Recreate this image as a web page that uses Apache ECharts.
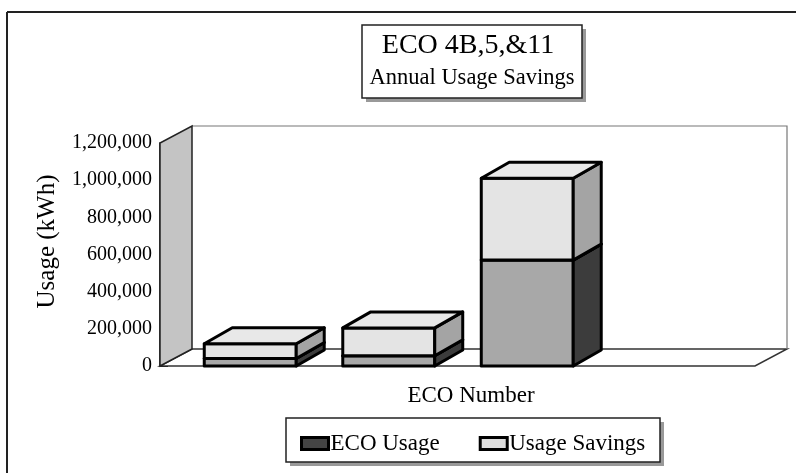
<!DOCTYPE html>
<html><head><meta charset="utf-8">
<script src="https://cdn.jsdelivr.net/npm/echarts@6/dist/echarts.min.js"></script>
<style>html,body{margin:0;padding:0;background:#fff}#c{width:796px;height:473px}</style>
</head><body><div id="c"></div>
<script>
// ---- data ----
const categories = ['4B', '5', '11', ''];
const ecoUsage = [40000, 55000, 570000, null];
const usageSavings = [80000, 150000, 440000, null];
const yTickValues = [0, 200000, 400000, 600000, 800000, 1000000, 1200000];
const yTickLabels = ['0', '200,000', '400,000', '600,000', '800,000', '1,000,000', '1,200,000'];
const seriesNames = ['ECO Usage', 'Usage Savings'];
const titleText = 'ECO 4B,5,&11';
const subtitleText = 'Annual Usage Savings';
const xName = 'ECO Number';
const yName = 'Usage (kWh)';

// ---- layout / style ----
const FONT = 'Liberation Serif';
const GRID = {left: 181, right: 61, top: 143, bottom: 107};
const WALL_LEFT_PAD = 21, WALL_RIGHT_PAD = 20;
const WALL_DX = 32, WALL_DY = -17;
const BAR_DX = 28, BAR_DY = -16;
const BAR_RATIO = 0.664;

const ecoData = [], savData = [];
categories.forEach((c, i) => {
  if (ecoUsage[i] == null) return;
  ecoData.push([i, 0, ecoUsage[i]]);
  savData.push([i, ecoUsage[i], ecoUsage[i] + usageSavings[i]]);
});

function barRenderer(colors) {
  return function (params, api) {
    const idx = api.value(0);
    const p0 = api.coord([idx, api.value(1)]);
    const p1 = api.coord([idx, api.value(2)]);
    const w = api.size([1, 0])[0] * BAR_RATIO;
    const x = p0[0] - w / 2, y = p1[1], h = p0[1] - p1[1];
    const st = {stroke: '#000', lineWidth: 3, lineJoin: 'round'};
    return {
      type: 'group',
      children: [
        {type: 'rect', shape: {x: x, y: y, width: w, height: h}, style: Object.assign({fill: colors.front}, st)},
        {type: 'polygon', shape: {points: [[x + w, y], [x + w + BAR_DX, y + BAR_DY], [x + w + BAR_DX, y + h + BAR_DY], [x + w, y + h]]}, style: Object.assign({fill: colors.side}, st)},
        {type: 'polygon', shape: {points: [[x, y], [x + BAR_DX, y + BAR_DY], [x + w + BAR_DX, y + BAR_DY], [x + w, y]]}, style: Object.assign({fill: colors.top}, st)}
      ]
    };
  };
}

function wallRenderer(params, api) {
  const cs = params.coordSys;
  const y0 = api.coord([0, 0])[1];
  const yTop = api.coord([0, yTickValues[yTickValues.length - 1]])[1];
  const xl = cs.x - WALL_LEFT_PAD, xr = cs.x + cs.width + WALL_RIGHT_PAD;
  return {
    type: 'group',
    children: [
      {type: 'polygon', shape: {points: [[xl, y0], [xl + WALL_DX, y0 + WALL_DY], [xr + WALL_DX, y0 + WALL_DY], [xr, y0]]},
        style: {fill: '#fff', stroke: '#333', lineWidth: 1.5}},
      {type: 'polyline', shape: {points: [[xl + WALL_DX, yTop + WALL_DY], [xr + WALL_DX, yTop + WALL_DY], [xr + WALL_DX, y0 + WALL_DY]]},
        style: {fill: null, stroke: '#777', lineWidth: 1.2}},
      {type: 'polygon', shape: {points: [[xl, y0], [xl, yTop], [xl + WALL_DX, yTop + WALL_DY], [xl + WALL_DX, y0 + WALL_DY]]},
        style: {fill: '#c4c4c4', stroke: '#222', lineWidth: 1.5}}
    ]
  };
}

const chart = echarts.init(document.getElementById('c'));
chart.setOption({
  animation: false,
  backgroundColor: '#fff',
  grid: GRID,
  xAxis: {
    type: 'category', data: categories,
    axisLine: {show: false}, axisTick: {show: false}, axisLabel: {show: false},
    name: xName, nameLocation: 'middle', nameGap: 18,
    nameTextStyle: {fontFamily: FONT, fontSize: 23, color: '#000', padding: [0, 0, 0, 26]}
  },
  yAxis: {
    type: 'value', min: 0, max: 1200000, interval: 200000,
    offset: WALL_LEFT_PAD,
    splitLine: {show: false},
    axisLine: {show: true, lineStyle: {color: '#000', width: 1.5}},
    axisTick: {show: true, inside: true, length: 8, lineStyle: {color: '#000'}},
    axisLabel: {
      fontFamily: FONT, fontSize: 20, color: '#000', margin: 8,
      formatter: v => yTickLabels[yTickValues.indexOf(v)] || ''
    },
    name: yName, nameLocation: 'middle', nameRotate: 90, nameGap: 100,
    nameTextStyle: {fontFamily: FONT, fontSize: 25, color: '#000', padding: [0, 0, 0, 26]}
  },
  legend: {
    left: 295, top: 427, itemWidth: 27, itemHeight: 12, itemGap: 39, z: 10,
    textStyle: {fontFamily: FONT, fontSize: 23, color: '#000', padding: [0, 0, 0, -3]},
    data: [
      {name: seriesNames[0], icon: 'rect', itemStyle: {color: '#444', borderColor: '#000', borderWidth: 3}},
      {name: seriesNames[1], icon: 'rect', itemStyle: {color: '#ddd', borderColor: '#000', borderWidth: 3}}
    ]
  },
  graphic: [
    {type: 'line', z: 0, shape: {x1: 7, y1: 12, x2: 7, y2: 480}, style: {stroke: '#222', lineWidth: 2}},
    {type: 'line', z: 0, shape: {x1: 7, y1: 12, x2: 800, y2: 12}, style: {stroke: '#222', lineWidth: 2}},
    {type: 'rect', z: 1, shape: {x: 366, y: 29, width: 220, height: 73}, style: {fill: '#999'}},
    {type: 'rect', z: 2, shape: {x: 362, y: 25, width: 220, height: 73}, style: {fill: '#fff', stroke: '#222', lineWidth: 1.5}},
    {type: 'text', z: 3, x: 468, y: 46, style: {text: titleText, font: '28px "' + FONT + '"', fill: '#000', textAlign: 'center', textVerticalAlign: 'middle'}},
    {type: 'text', z: 3, x: 472, y: 78, style: {text: subtitleText, font: '22.5px "' + FONT + '"', fill: '#000', textAlign: 'center', textVerticalAlign: 'middle'}},
    {type: 'rect', z: 1, shape: {x: 290, y: 422, width: 374, height: 44}, style: {fill: '#999'}},
    {type: 'rect', z: 2, shape: {x: 286, y: 418, width: 374, height: 44}, style: {fill: '#fff', stroke: '#222', lineWidth: 1.5}}
  ],
  series: [
    {type: 'custom', name: 'walls', renderItem: wallRenderer, data: [[0, 0, 0]], encode: {x: 0, y: [1, 2]}, silent: true, clip: false, z: 1},
    {type: 'custom', name: seriesNames[0], renderItem: barRenderer({front: '#a8a8a8', side: '#3c3c3c', top: '#888'}),
      data: ecoData, encode: {x: 0, y: [1, 2]}, clip: false, z: 2, itemStyle: {color: '#444'}},
    {type: 'custom', name: seriesNames[1], renderItem: barRenderer({front: '#e4e4e4', side: '#a4a4a4', top: '#e8e8e8'}),
      data: savData, encode: {x: 0, y: [1, 2]}, clip: false, z: 3, itemStyle: {color: '#ddd'}}
  ]
});
</script></body></html>
